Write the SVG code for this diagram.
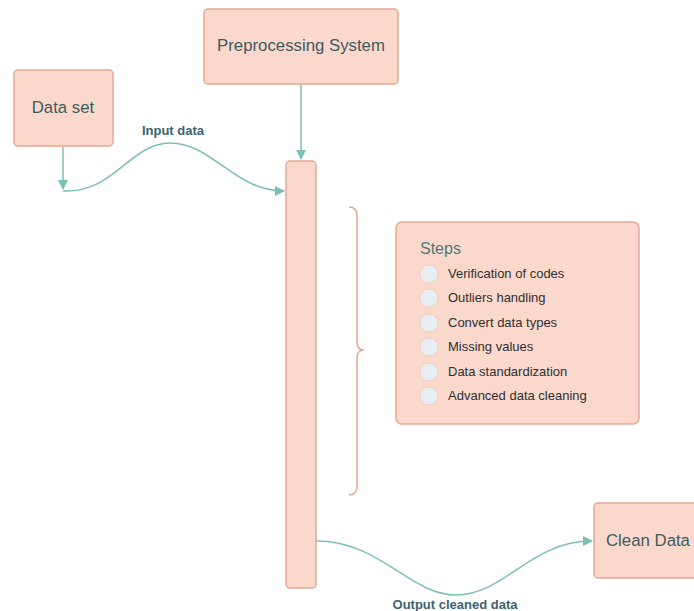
<svg xmlns="http://www.w3.org/2000/svg" width="694" height="611" viewBox="0 0 694 611">
<style>
.box{fill:#fad9cc;stroke:#e3a893;stroke-width:1.5}
.lbl{font-family:"Liberation Sans",Arial,sans-serif;font-size:16.8px;fill:#3e5a60}
.conn{fill:none;stroke:#7cbfb6;stroke-width:1.5}
.clbl{font-family:"Liberation Sans",Arial,sans-serif;font-size:13px;font-weight:bold;fill:#3b6472;text-anchor:middle}
.step{font-family:"Liberation Sans",Arial,sans-serif;font-size:13px;fill:#2f2f2f}
.dot{fill:#e9eef2;stroke:#f0cfc2;stroke-width:1}
</style>
<defs>
<marker id="ah" viewBox="0 0 10 10" refX="9" refY="5" markerWidth="10" markerHeight="10" markerUnits="userSpaceOnUse" orient="auto">
<path d="M0,0 L10,5 L0,10 z" fill="#7cbfb6"/>
</marker>
</defs>
<g id="connectors">
<path class="conn" d="M301,85 L301,159" marker-end="url(#ah)"/>
<path class="conn" d="M63,147 L63,189" marker-end="url(#ah)"/>
<path class="conn" d="M63,191 C115,193 130,143 170,143 C212,143 235,191 284,191" marker-end="url(#ah)"/>
<path class="conn" d="M317,541 C380,541 410,595 456,595 C505,595 530,541 592,541" marker-end="url(#ah)"/>
<text class="clbl" x="173" y="135">Input data</text>
<text class="clbl" x="455" y="609">Output cleaned data</text>
</g>
<g id="preprocessing">
<rect class="box" x="204" y="9" width="194" height="75" rx="4"/>
<text class="lbl" x="301" y="51" text-anchor="middle">Preprocessing System</text>
</g>
<g id="dataset">
<rect class="box" x="14" y="70" width="99" height="76" rx="4"/>
<text class="lbl" x="63" y="113" text-anchor="middle">Data set</text>
</g>
<g id="bar">
<rect class="box" x="286" y="161" width="30" height="427" rx="4"/>
</g>
<g id="brace">
<path d="M349,207 Q357,207 357,216 L357,342 Q357,350 364,350 Q357,350 357,358 L357,486 Q357,495 349,495" fill="none" stroke="#e3a893" stroke-width="1.5"/>
</g>
<g id="steps">
<rect class="box" x="396" y="222" width="243" height="202" rx="6"/>
<text x="420" y="254" font-family="Liberation Sans, Arial, sans-serif" font-size="16" fill="#4a7a78">Steps</text>
<circle class="dot" cx="429" cy="274" r="9"/>
<text class="step" x="448" y="278">Verification of codes</text>
<circle class="dot" cx="429" cy="298" r="9"/>
<text class="step" x="448" y="302">Outliers handling</text>
<circle class="dot" cx="429" cy="323" r="9"/>
<text class="step" x="448" y="327">Convert data types</text>
<circle class="dot" cx="429" cy="347" r="9"/>
<text class="step" x="448" y="351">Missing values</text>
<circle class="dot" cx="429" cy="372" r="9"/>
<text class="step" x="448" y="376">Data standardization</text>
<circle class="dot" cx="429" cy="396" r="9"/>
<text class="step" x="448" y="400">Advanced data cleaning</text>
</g>
<g id="cleandata">
<rect class="box" x="594" y="503" width="120" height="75" rx="4"/>
<text class="lbl" x="606" y="546">Clean Data</text>
</g>
</svg>
